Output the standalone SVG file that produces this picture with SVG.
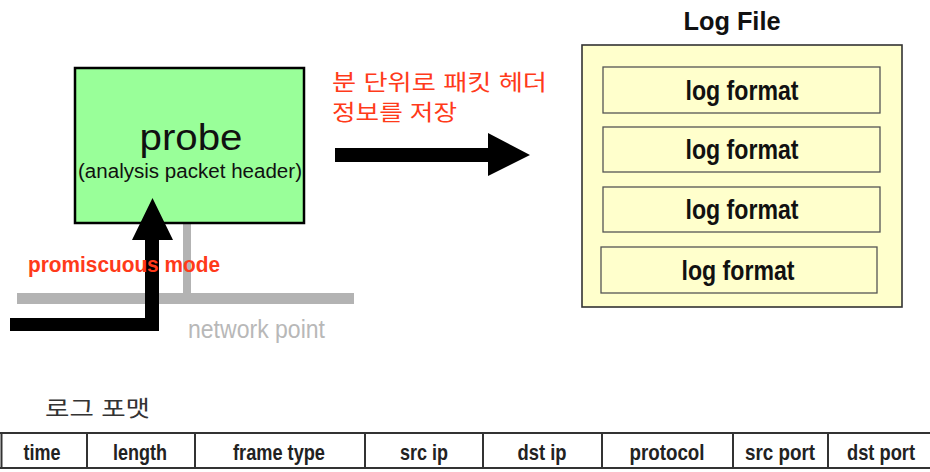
<svg xmlns="http://www.w3.org/2000/svg" width="930" height="472" viewBox="0 0 930 472">
  <style>
    .lbl { font-family: "Liberation Sans", Arial, sans-serif; }
    .kr { font-family: "Liberation Sans", "Noto Sans CJK KR", sans-serif; }
    .red { fill: #ff3a1a; }
    .fmtbox { fill: #ffffcc; stroke: #555; stroke-width: 1.3; }
    .fmt { font-family: "Liberation Sans", Arial, sans-serif; font-weight: bold; font-size: 28px; fill: #111; text-anchor: middle; }
    .cell { font-family: "Liberation Sans", Arial, sans-serif; font-weight: bold; font-size: 22px; fill: #222; text-anchor: middle; }
    .grid { stroke: #333; stroke-width: 2; }
    .wire { fill: #b3b3b3; }
  </style>

  <rect width="930" height="472" fill="#ffffff"/>

  <!-- network segment and probe tap -->
  <g id="network">
    <rect class="wire" x="17" y="293" width="337" height="11"/>
    <rect class="wire" x="183" y="223" width="8" height="72"/>
    <text class="lbl" x="188" y="338" font-size="25" fill="#b8b8b8" textLength="137" lengthAdjust="spacingAndGlyphs">network point</text>
  </g>

  <!-- probe node -->
  <g id="probe">
    <rect x="75" y="68" width="229" height="155" fill="#99ff99" stroke="#000" stroke-width="2.5"/>
    <text class="lbl" x="191" y="150" font-size="36" fill="#111" text-anchor="middle" textLength="103" lengthAdjust="spacingAndGlyphs">probe</text>
    <text class="lbl" x="190" y="178" font-size="20" fill="#111" text-anchor="middle" textLength="224" lengthAdjust="spacingAndGlyphs">(analysis packet header)</text>
  </g>

  <!-- connectors -->
  <g id="connectors">
    <path d="M10,318 H145 V240 H132 L152.5,198 L173,240 H159 V331 H10 Z" fill="#000"/>
    <path d="M335,148 H488 V133 L530,155 L488,176 V162 H335 Z" fill="#000"/>
  </g>

  <g id="labels">
    <text class="lbl red" x="28" y="272" font-size="22" font-weight="bold" textLength="192" lengthAdjust="spacingAndGlyphs">promiscuous mode</text>
    <text class="kr red" x="332" y="90" font-size="22" textLength="215" lengthAdjust="spacingAndGlyphs">분 단위로 패킷 헤더</text>
    <text class="kr red" x="332" y="120" font-size="22" textLength="125" lengthAdjust="spacingAndGlyphs">정보를 저장</text>
  </g>

  <!-- log file node -->
  <g id="logfile">
    <text class="lbl" x="732" y="30" font-size="25" font-weight="bold" fill="#111" text-anchor="middle" textLength="97" lengthAdjust="spacingAndGlyphs">Log File</text>
    <rect x="582" y="45" width="320" height="262" fill="#ffffcc" stroke="#333" stroke-width="1.6"/>
    <rect class="fmtbox" x="603" y="67" width="277" height="46"/>
    <text class="fmt" x="742" y="100" textLength="113" lengthAdjust="spacingAndGlyphs">log format</text>
    <rect class="fmtbox" x="603" y="127" width="277" height="45"/>
    <text class="fmt" x="742" y="159" textLength="113" lengthAdjust="spacingAndGlyphs">log format</text>
    <rect class="fmtbox" x="603" y="187" width="277" height="45"/>
    <text class="fmt" x="742" y="219" textLength="113" lengthAdjust="spacingAndGlyphs">log format</text>
    <rect class="fmtbox" x="601" y="247" width="276" height="46"/>
    <text class="fmt" x="738" y="280" textLength="113" lengthAdjust="spacingAndGlyphs">log format</text>
  </g>

  <!-- log record layout -->
  <g id="format-table">
    <text class="kr" x="45" y="416" font-size="22" fill="#333" textLength="105" lengthAdjust="spacingAndGlyphs">로그 포맷</text>
    <line class="grid" x1="0" y1="433" x2="930" y2="433"/>
    <line class="grid" x1="0" y1="468" x2="930" y2="468"/>
    <line class="grid" x1="1.5" y1="433" x2="1.5" y2="468"/>
    <line class="grid" x1="87" y1="433" x2="87" y2="468"/>
    <line class="grid" x1="195" y1="433" x2="195" y2="468"/>
    <line class="grid" x1="365" y1="433" x2="365" y2="468"/>
    <line class="grid" x1="483" y1="433" x2="483" y2="468"/>
    <line class="grid" x1="602" y1="433" x2="602" y2="468"/>
    <line class="grid" x1="733" y1="433" x2="733" y2="468"/>
    <line class="grid" x1="828" y1="433" x2="828" y2="468"/>
    <text class="cell" x="42" y="460" textLength="37" lengthAdjust="spacingAndGlyphs">time</text>
    <text class="cell" x="140" y="460" textLength="54" lengthAdjust="spacingAndGlyphs">length</text>
    <text class="cell" x="279" y="460" textLength="92" lengthAdjust="spacingAndGlyphs">frame type</text>
    <text class="cell" x="424" y="460" textLength="48" lengthAdjust="spacingAndGlyphs">src ip</text>
    <text class="cell" x="542" y="460" textLength="49" lengthAdjust="spacingAndGlyphs">dst ip</text>
    <text class="cell" x="667" y="460" textLength="75" lengthAdjust="spacingAndGlyphs">protocol</text>
    <text class="cell" x="780" y="460" textLength="70" lengthAdjust="spacingAndGlyphs">src port</text>
    <text class="cell" x="881" y="460" textLength="68" lengthAdjust="spacingAndGlyphs">dst port</text>
  </g>
</svg>
